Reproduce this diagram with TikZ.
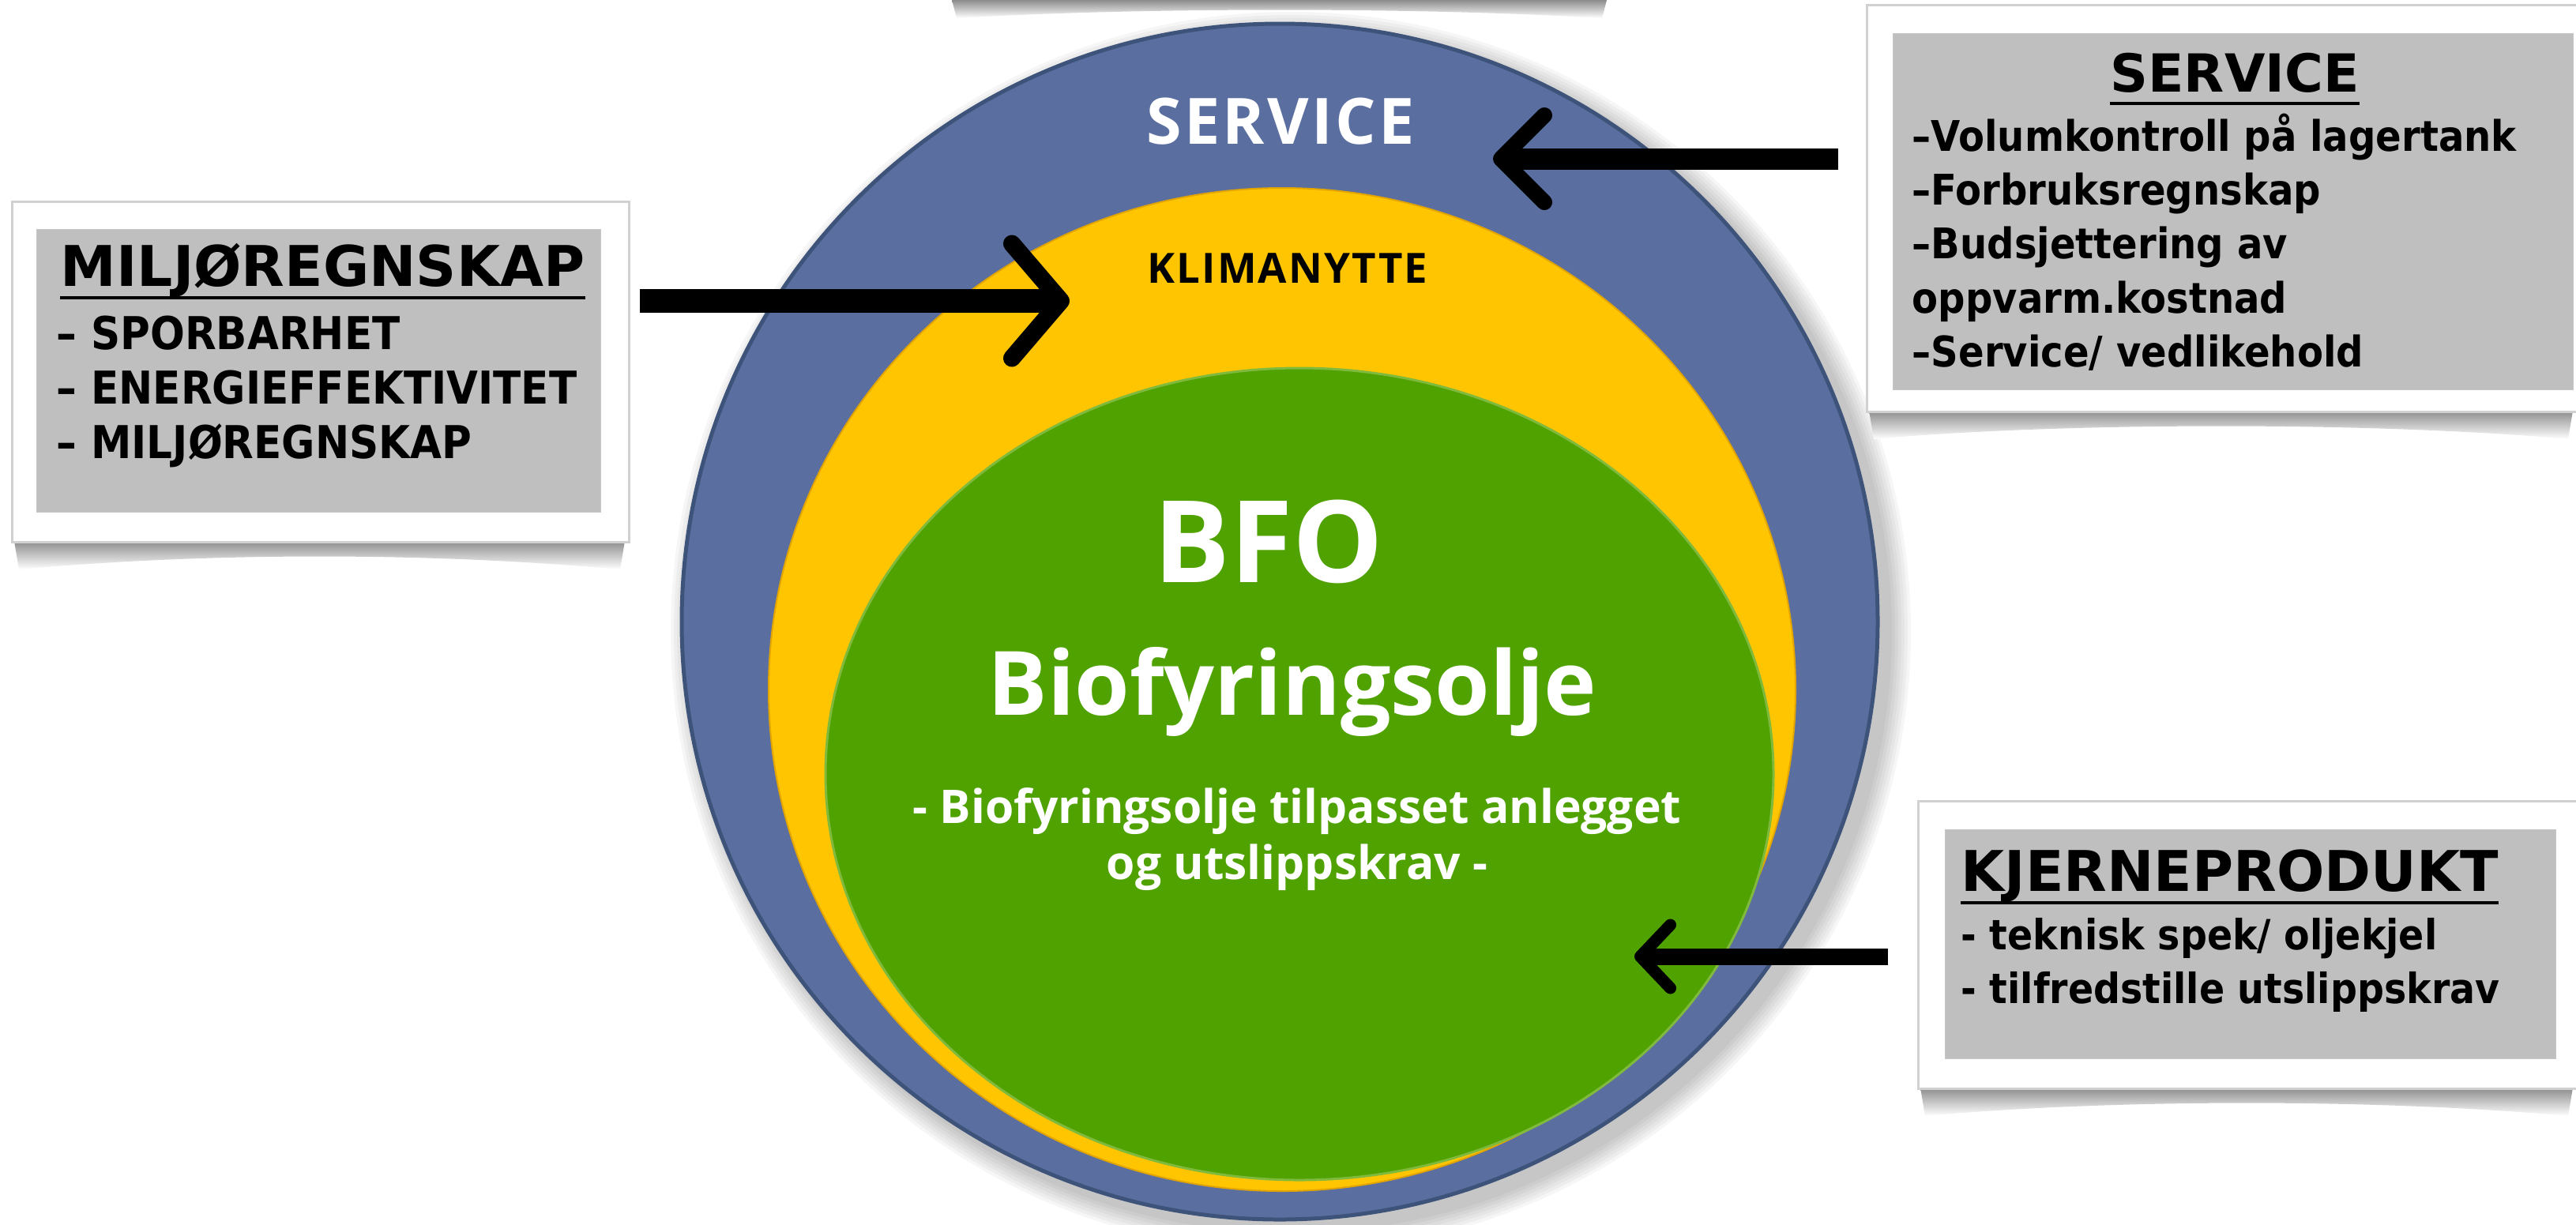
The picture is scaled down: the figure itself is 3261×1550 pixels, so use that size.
\documentclass[tikz,border=0pt]{standalone}
\usepackage{fontspec}
\setmainfont{DejaVu Sans}
\newfontfamily\ringfont{Open Sans}
\newfontfamily\itemfont{DejaVu Sans}[FakeStretch=0.9]
\usetikzlibrary{arrows.meta,calc,positioning}
\definecolor{ringblue}{RGB}{90,111,160}
\definecolor{ringedge}{RGB}{62,83,122}
\definecolor{ringyellow}{RGB}{255,197,0}
\definecolor{yellowedge}{RGB}{226,165,0}
\definecolor{ringgreen}{RGB}{79,162,0}
\definecolor{greenedge}{RGB}{128,186,60}
\definecolor{boxgray}{RGB}{191,191,191}
\tikzset{
    boxframe/.style={fill=white, draw=black!18, line width=0.03cm, anchor=north west, inner sep=0pt},
    infobox/.style={fill=boxgray, draw=black!22, line width=0.01cm, anchor=north west, inner sep=0pt},
    headtxt/.style={font=\bfseries\fontsize{#1}{#1}\selectfont, inner sep=0pt},
    headtxt/.default=20.2,
    itemtxt/.style={font=\itemfont\bfseries\fontsize{#1}{#1}\selectfont, inner sep=0pt, anchor=base west},
    itemtxt/.default=16.3,
    headline/.style={line width=0.045cm},
    curl/.style={top color=black!45, bottom color=white, draw=none},
    ringtxt/.style={font=\ringfont\bfseries, inner sep=0pt, anchor=base},
    bigarrow/.style={line width=#1, -{Straight Barb[length=0.62cm, width=1.45cm, line width=0.22cm, round]}},
    bigarrow/.default=0.3cm
}
% curled page shadow under a box: left x, right x, bottom y
\newcommand{\curlshade}[3]{%
    \shade[curl] (#1+4,#3) -- (#2-4,#3) -- (#2-10,#3+36) .. controls (#2-250,#3+14) and (#1+250,#3+14) .. (#1+10,#3+36) -- cycle;}

\begin{document}
\begin{tikzpicture}[x=0.01cm, y=-0.01cm]
    \useasboundingbox (0,0) rectangle (3261,1550);

    % rings
    \foreach \k in {1,...,7}
        \fill[black, opacity=0.035] (1634,800) circle [radius=757+4*\k];
    \fill[ringblue, draw=ringedge, line width=0.05cm] (1620,787) circle [radius=757];
    \fill[ringyellow, draw=yellowedge, line width=0.02cm] (1623,873) ellipse [x radius=650, y radius=635];
    \fill[ringgreen, draw=greenedge, line width=0.03cm] (1645,980) ellipse [x radius=600, y radius=514];

    \node[ringtxt, text=white] (serviceLabel) at (1621,182) {\fontsize{23}{28}\selectfont\addfontfeatures{LetterSpace=4}SERVICE};
    \node[ringtxt, text=black] (klimaLabel) at (1630,358) {\fontsize{15}{18}\selectfont\addfontfeatures{LetterSpace=4}KLIMANYTTE};
    \node[ringtxt, text=white] (bfoLabel) at (1606,737) {\fontsize{41}{48}\selectfont BFO};
    \node[ringtxt, text=white] (bioLabel) at (1636,905) {\fontsize{32}{38}\selectfont Biofyringsolje};
    \node[ringtxt, text=white] (bioSub1) at (1642,1042) {\fontsize{16.7}{20}\selectfont - Biofyringsolje tilpasset anlegget};
    \node[ringtxt, text=white] (bioSub2) at (1642,1113) {\fontsize{16.7}{20}\selectfont og utslippskrav -};

    % box above, only its shadow is left
    \shade[curl] (1205,0) -- (2034,0) -- (2028,23) .. controls (1800,9) and (1440,9) .. (1211,23) -- cycle;

    % MILJOREGNSKAP
    \curlshade{14}{795}{685}
    \node[boxframe, minimum width=7.81cm, minimum height=4.31cm] (miljoFrame) at (14,254) {};
    \node[infobox, minimum width=7.14cm, minimum height=3.58cm] (miljoBox) at (46,290) {};
    \node[headtxt, anchor=base west] (miljoHead) at (76,362) {MILJØREGNSKAP};
    \draw[headline] ([yshift=-0.15cm]miljoHead.base west) -- ([yshift=-0.15cm]miljoHead.base east);
    \foreach \t [count=\i] in {SPORBARHET, ENERGIEFFEKTIVITET, MILJØREGNSKAP}
        \node[itemtxt] (miljoItem\i) at (71,373+69*\i) {– \t};

    % SERVICE
    \curlshade{2362}{3261}{520}
    \node[boxframe, minimum width=8.99cm, minimum height=5.15cm] (serviceFrame) at (2362,5) {};
    \node[infobox, minimum width=8.6cm, minimum height=4.51cm] (serviceBox) at (2396,42) {};
    \node[headtxt=18.9, anchor=base] (serviceHead) at (2829,116) {SERVICE};
    \draw[headline] ([yshift=-0.15cm]serviceHead.base west) -- ([yshift=-0.15cm]serviceHead.base east);
    \foreach \t [count=\i] in {–Volumkontroll på lagertank, –Forbruksregnskap, –Budsjettering av, oppvarm.kostnad, –Service/ vedlikehold}
        \node[itemtxt=15.2] (serviceItem\i) at (2420,123+68.3*\i) {\t};

    % KJERNEPRODUKT
    \curlshade{2427}{3261}{1377}
    \node[boxframe, minimum width=8.34cm, minimum height=3.64cm] (kjerneFrame) at (2427,1013) {};
    \node[infobox, minimum width=7.73cm, minimum height=2.9cm] (kjerneBox) at (2462,1050) {};
    \node[headtxt, anchor=base west] (kjerneHead) at (2482,1128) {KJERNEPRODUKT};
    \draw[headline] ([yshift=-0.15cm]kjerneHead.base west) -- ([yshift=-0.15cm]kjerneHead.base east);
    \node[itemtxt=15] (kjerneItem1) at (2482,1202) {- teknisk spek/ oljekjel};
    \node[itemtxt=15] (kjerneItem2) at (2482,1270) {- tilfredstille utslippskrav};

    % arrows into the rings
    \coordinate (miljoTip) at (1354,381);
    \coordinate (serviceTip) at (1890,201);
    \coordinate (kjerneTip) at (2069,1211);
    \draw[bigarrow] ($(miljoFrame.east |- miljoTip)+(12,0)$) -- (miljoTip);
    \draw[bigarrow=0.27cm, -{Straight Barb[length=0.55cm, width=1.1cm, line width=0.2cm, round]}]
        ($(serviceFrame.west |- serviceTip)+(-35,0)$) -- (serviceTip);
    \draw[bigarrow=0.21cm, -{Straight Barb[length=0.38cm, width=0.8cm, line width=0.15cm, round]}]
        ($(kjerneFrame.west |- kjerneTip)+(-37,0)$) -- (kjerneTip);
\end{tikzpicture}
\end{document}
